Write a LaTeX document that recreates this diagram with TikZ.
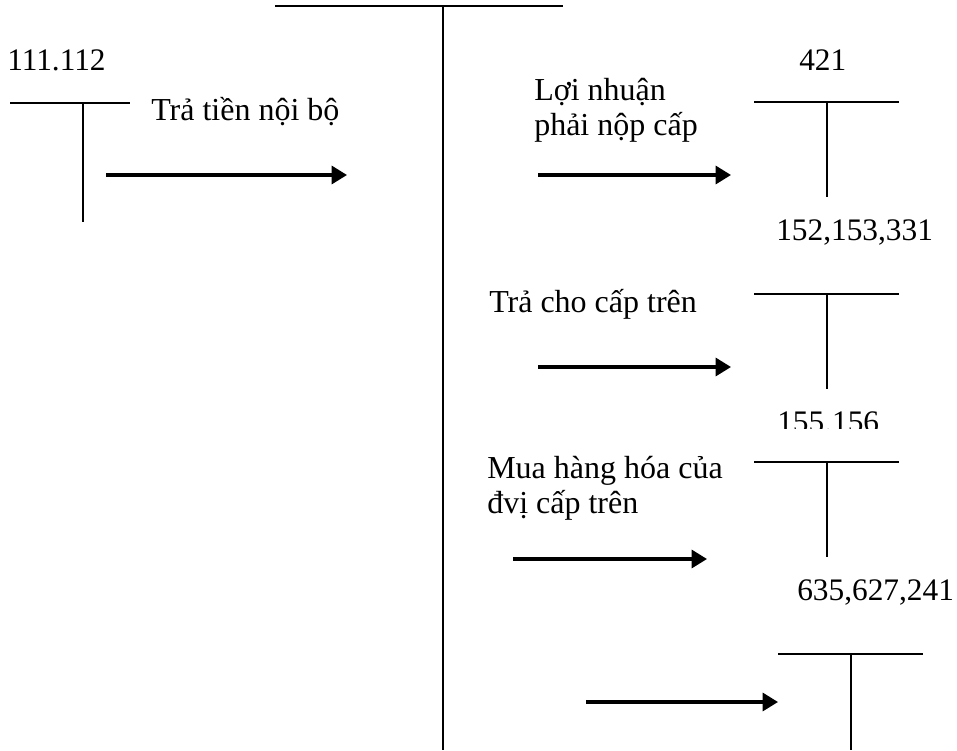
\documentclass[tikz,border=0pt]{standalone}
\usepackage{fontspec}
\setmainfont{Liberation Serif}
\usetikzlibrary{arrows.meta}
\begin{document}
\begin{tikzpicture}[x=0.75pt,y=-0.75pt,
  tline/.style={line width=1.5pt},
  flow/.style={line width=2.3pt,-{Triangle[length=11.5pt,width=13.5pt]}},
  lbl/.style={inner sep=0pt,anchor=base west,font=\fontsize{24}{26}\selectfont},
  num/.style={lbl,font=\fontsize{23.5}{26}\selectfont}]
\useasboundingbox (0,0) rectangle (957,750);

% main T-account
\draw[tline] (275,6) -- (563,6);
\draw[tline] (443,6) -- (443,750);

% 111.112
\node[num] (a111) at (7,70) {111.112};
\draw[tline] (10,103) -- (130,103);
\draw[tline] (83,103) -- (83,222);
\node[lbl] (t1) at (151,120) {Trả tiền nội bộ};
\coordinate (a1s) at (106,175);
\coordinate (a1e) at (347,175);
\draw[flow] (a1s) -- (a1e);

% 421
\node[num] (a421) at (799,70) {421};
\draw[tline] (754,102) -- (899,102);
\draw[tline] (827,102) -- (827,197);
\node[lbl] (t2a) at (534,100) {Lợi nhuận};
\node[lbl] (t2b) at (534,135) {phải nộp cấp};
\coordinate (a2s) at (538,175);
\coordinate (a2e) at (731,175);
\draw[flow] (a2s) -- (a2e);

% 152,153,331
\node[num] (a152) at (776,240) {152,153,331};
\draw[tline] (754,294) -- (899,294);
\draw[tline] (827,294) -- (827,389);
\node[lbl] (t3) at (489,312) {Trả cho cấp trên};
\coordinate (a3s) at (538,367);
\coordinate (a3e) at (731,367);
\draw[flow] (a3s) -- (a3e);

% 155.156 (bottom cut off)
\begin{scope}
  \clip (760,395) rectangle (900,428);
  \node[num] (a155) at (777,432) {155.156};
\end{scope}
\draw[tline] (754,462) -- (899,462);
\draw[tline] (827,462) -- (827,557);
\node[lbl] (t4a) at (487,478) {Mua hàng hóa của};
\node[lbl] (t4b) at (487,513) {đvị cấp trên};
\coordinate (a4s) at (513,559);
\coordinate (a4e) at (707,559);
\draw[flow] (a4s) -- (a4e);

% 635,627,241
\node[num] (a635) at (797,600) {635,627,241};
\draw[tline] (778,654) -- (923,654);
\draw[tline] (851,654) -- (851,750);
\coordinate (a5s) at (586,702);
\coordinate (a5e) at (778,702);
\draw[flow] (a5s) -- (a5e);
\end{tikzpicture}
\end{document}
